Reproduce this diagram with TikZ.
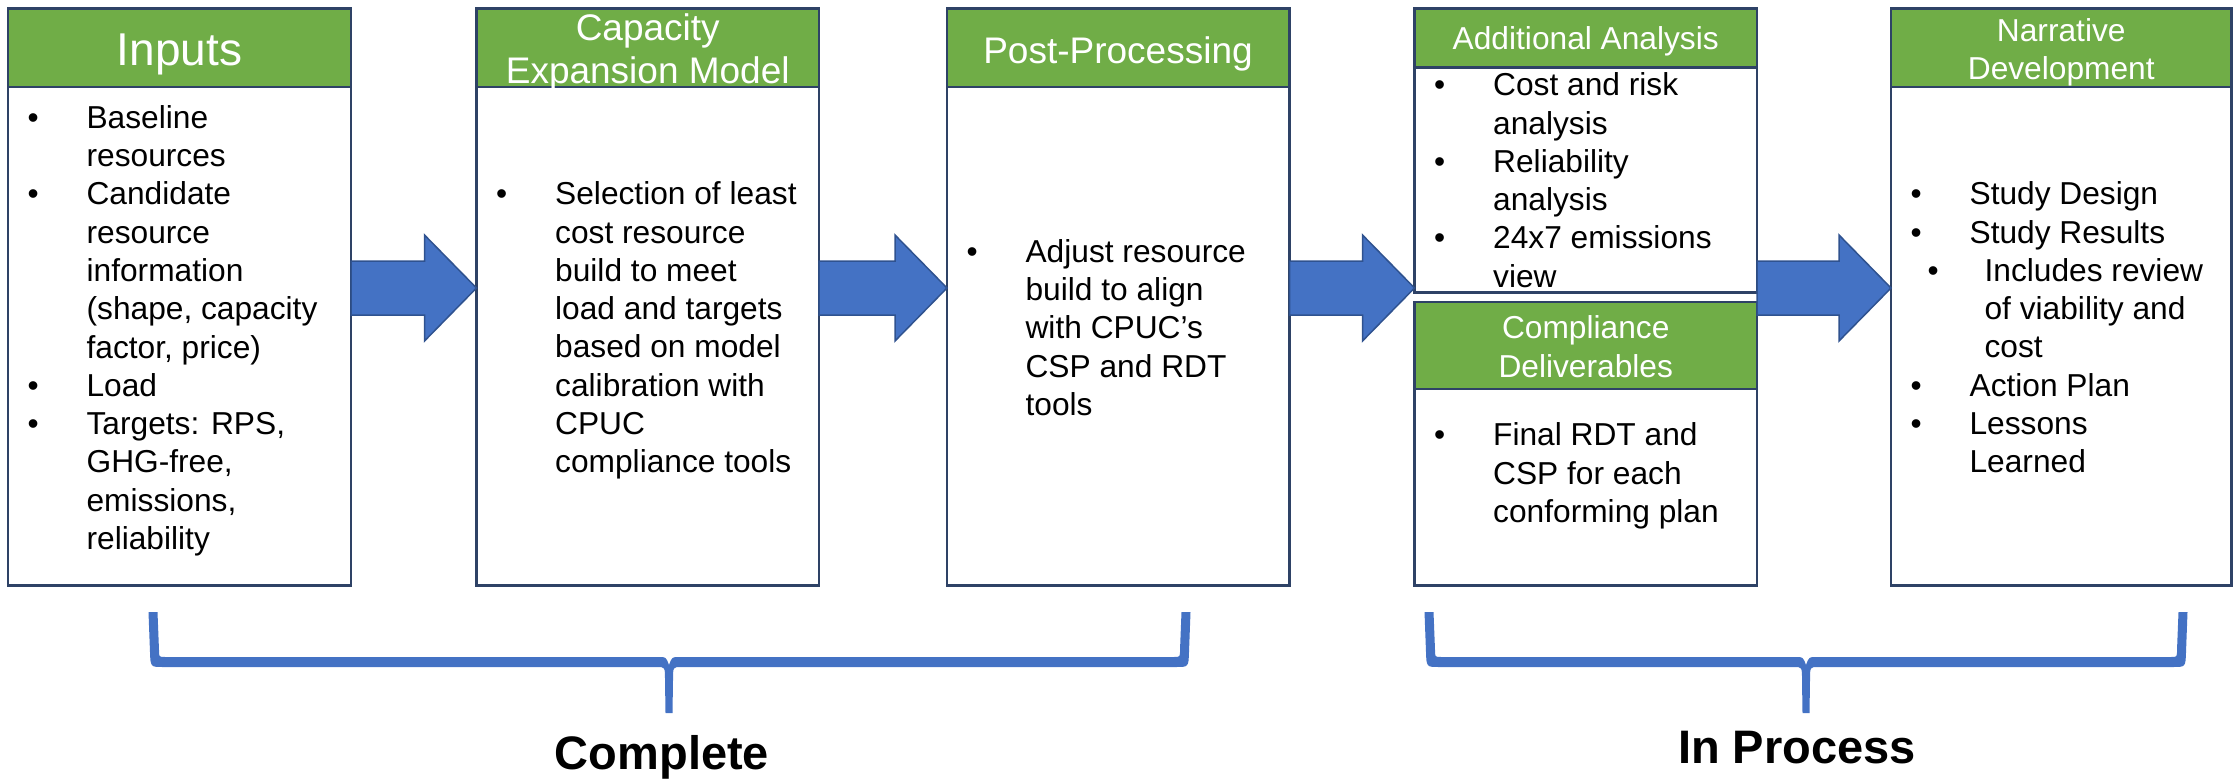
\documentclass[tikz,border=0pt]{standalone}
\usepackage{fontspec}
\setmainfont{Liberation Sans}
\usepackage{tikz}
\usetikzlibrary{calc,positioning}

\definecolor{hdrgreen}{HTML}{70AD47}
\definecolor{edgenavy}{HTML}{2E4266}
\definecolor{arrowblue}{HTML}{4472C4}
\definecolor{arrowedge}{HTML}{2F528F}

\newcommand{\itm}{\makebox[59pt][l]{\textbullet}}
\newcommand{\cnt}{\hspace*{59pt}}
\newcommand{\subitm}{\hspace*{17pt}\makebox[57pt][l]{\textbullet}}
\newcommand{\subcnt}{\hspace*{74pt}}
\newcommand{\rows}[1]{\begin{tabular}[t]{@{}l@{}}#1\end{tabular}}
\newcommand{\rowsc}[1]{\begin{tabular}[t]{@{}c@{}}#1\end{tabular}}

% block arrow between two boxes, at the height of (lvl)
\newcommand{\fatarrow}[2]{%
  \filldraw[fatarrow] let \p1=(#1 |- lvl), \p2=(#2 |- lvl) in
    (\x1,\y1+27pt) -- (\x2-52pt,\y1+27pt) -- (\x2-52pt,\y1+53pt) -- (\x2,\y1)
    -- (\x2-52pt,\y1-53pt) -- (\x2-52pt,\y1-27pt) -- (\x1,\y1-27pt) -- cycle;}

% curly bracket under a group: left, middle, right
\newcommand{\bracket}[3]{%
  \fill[arrowblue] ({#1-4.5},612) -- ({#1-3},652) .. controls ({#1-2.5},667) .. ({#1+10},667)
    -- ({#2-12},667) .. controls ({#2-4},667) .. ({#2-4},680) -- ({#2-3.5},713)
    -- ({#2+3.5},713) -- ({#2+4},680) .. controls ({#2+4},667) .. ({#2+12},667)
    -- ({#3-10},667) .. controls ({#3+2.5},667) .. ({#3+3},652) -- ({#3+4.5},612)
    -- ({#3-4.5},612) -- ({#3-6},650) .. controls ({#3-6},657) .. ({#3-12},657)
    -- ({#2+10},657) .. controls ({#2+3},657) .. (#2,665) .. controls ({#2-3},657) .. ({#2-10},657)
    -- ({#1+12},657) .. controls ({#1+6},657) .. ({#1+6},650) -- ({#1+4.5},612) -- cycle;}

\begin{document}
\begin{tikzpicture}[x=1pt, y=-1pt,
  hdr/.style={draw=edgenavy, line width=2.5pt, fill=hdrgreen, minimum width=342.5pt,
    minimum height=78.6pt, outer sep=0pt, inner sep=0pt, anchor=north west},
  bdy/.style={draw=edgenavy, line width=2.5pt, fill=white, minimum width=342.5pt,
    outer sep=0pt, inner sep=0pt},
  ttl/.style={text=white, anchor=base, inner sep=0pt},
  txt/.style={anchor=base west, inner sep=0pt, font=\fontsize{31.7}{38.3}\selectfont},
  grp/.style={anchor=base, inner sep=0pt, font=\bfseries\fontsize{47}{56}\selectfont},
  fatarrow/.style={fill=arrowblue, draw=arrowedge, line width=1.5pt}]
\useasboundingbox (0,0) rectangle (2233,779);
\coordinate (lvl) at (0,288);
%boxes
\node[hdr, minimum width=343pt] (inp-h) at (8,8.4) {};
\node[bdy, below=0pt of inp-h, minimum width=343pt, minimum height=498.5pt] (inp-b) {};
\node[hdr] (cem-h) at (476.5,8.4) {};
\node[bdy, below=0pt of cem-h, minimum height=498.5pt] (cem-b) {};
\node[hdr] (pp-h) at (947,8.4) {};
\node[bdy, below=0pt of pp-h, minimum height=498.5pt] (pp-b) {};
\node[hdr, minimum height=59.3pt] (add-h) at (1414.5,8.4) {};
\node[bdy, below=0pt of add-h, minimum height=225pt] (add-b) {};
\node[hdr, minimum height=87pt] (cmp-h) at (1414.5,302.2) {};
\node[bdy, below=0pt of cmp-h, minimum height=196.3pt] (cmp-b) {};
\node[hdr, minimum width=340.5pt] (nar-h) at (1891,8.4) {};
\node[bdy, below=0pt of nar-h, minimum width=340.5pt, minimum height=498.5pt] (nar-b) {};
%titles
\path (179.5,65.8) node[ttl, font=\fontsize{46}{55}\selectfont] (inp-t) {Inputs};
\path (647.75,40.2) node[ttl, font=\fontsize{37}{43.2}\selectfont] (cem-t) {\rowsc{Capacity\\Expansion Model}};
\path (1118,63.1) node[ttl, font=\fontsize{37}{43.2}\selectfont] (pp-t) {Post-Processing};
\path (1585.75,49.7) node[ttl, font=\fontsize{31.7}{38.3}\selectfont] (add-t) {Additional Analysis};
\path (1585.75,338.7) node[ttl, font=\fontsize{31.7}{38.3}\selectfont] (cmp-t) {\rowsc{Compliance\\Deliverables}};
\path (2061.25,41.3) node[ttl, font=\fontsize{31.7}{38.3}\selectfont] (nar-t) {\rowsc{Narrative\\Development}};
%bullet lists
\path (27.4,128.2) node[txt] (inp-l) {\rows{\itm Baseline\\\cnt resources\\\itm Candidate\\\cnt resource\\\cnt information\\\cnt (shape, capacity\\\cnt factor, price)\\\itm Load\\\itm Targets: RPS,\\\cnt GHG-free,\\\cnt emissions,\\\cnt reliability}};
\path (496,204.7) node[txt] (cem-l) {\rows{\itm Selection of least\\\cnt cost resource\\\cnt build to meet\\\cnt load and targets\\\cnt based on model\\\cnt calibration with\\\cnt CPUC\\\cnt compliance tools}};
\path (966.4,262.1) node[txt] (pp-l) {\rows{\itm Adjust resource\\\cnt build to align\\\cnt with CPUC’s\\\cnt CSP and RDT\\\cnt tools}};
\path (1434,95.7) node[txt] (add-l) {\rows{\itm Cost and risk\\\cnt analysis\\\itm Reliability\\\cnt analysis\\\itm 24x7 emissions\\\cnt view}};
\path (1434,445.8) node[txt] (cmp-l) {\rows{\itm Final RDT and\\\cnt CSP for each\\\cnt conforming plan}};
\path (1910.4,204.7) node[txt] (nar-l) {\rows{\itm Study Design\\\itm Study Results\\\subitm Includes review\\\subcnt of viability and\\\subcnt cost\\\itm Action Plan\\\itm Lessons\\\cnt Learned}};
%arrows
\fatarrow{inp-b.east}{cem-b.west}
\fatarrow{cem-b.east}{pp-b.west}
\fatarrow{pp-b.east}{add-b.west}
\fatarrow{add-b.east}{nar-b.west}
%brackets
\bracket{153}{669}{1186}
\bracket{1429}{1806}{2183}
\path (662,769) node[grp] (done) {Complete};
\path (1797,763) node[grp] (wip) {In Process};
\end{tikzpicture}
\end{document}
